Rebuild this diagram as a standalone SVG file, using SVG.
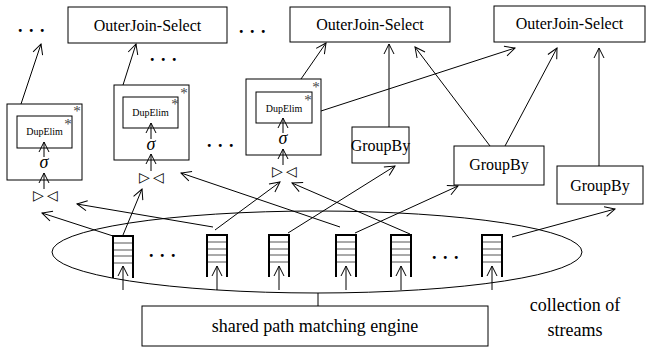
<svg xmlns="http://www.w3.org/2000/svg" width="647" height="347" viewBox="0 0 647 347" font-family="'Liberation Serif', 'Times New Roman', serif">
<style>
.box{fill:#fff;stroke:#000;stroke-width:1}
text{font-family:'Liberation Serif','Times New Roman',serif}
.t{fill:#000;text-anchor:middle}
.big{font-size:16px}
.small{font-size:10px}
.lbl{font-size:18px}
.sig{font-size:18px;font-style:italic}
.dots{font-size:18px;font-weight:bold;letter-spacing:6.5px;fill:#000}
.star{font-size:15px;fill:#444;text-anchor:middle}
.bt{font-size:14px;fill:#000;text-anchor:middle;letter-spacing:3px}
.ln{stroke:#000;stroke-width:1;fill:none}
.arr{stroke:#000;stroke-width:1;fill:none;marker-end:url(#ah)}
.qs{stroke:#000;stroke-width:2;fill:#fff}
.qd{stroke:#555;stroke-width:1}
</style>
<defs>
<marker id="ah" viewBox="0 0 12 12" refX="11" refY="6" markerWidth="12" markerHeight="12" markerUnits="userSpaceOnUse" orient="auto">
<path d="M1,1 L11,6 L1,11" fill="none" stroke="#000" stroke-width="1"/>
</marker>
<g id="queue">
<path class="qs" d="M0,42 V0 H20 V42"/>
<line class="qd" x1="1" y1="7" x2="19" y2="7"/>
<line class="qd" x1="1" y1="14" x2="19" y2="14"/>
<line class="qd" x1="1" y1="20" x2="19" y2="20"/>
<line class="qd" x1="1" y1="27" x2="19" y2="27"/>
</g>
</defs>
<rect width="647" height="347" fill="#fff"/>

<g id="collection">
<ellipse class="ln" cx="317" cy="252" rx="265" ry="41"/>
</g>

<g id="ojs1"><rect class="box" x="68" y="7" width="159" height="36"/><text class="t big" x="147.5" y="30.5">OuterJoin-Select</text></g>
<g id="ojs2"><rect class="box" x="290" y="7" width="160" height="35"/><text class="t big" x="370" y="30">OuterJoin-Select</text></g>
<g id="ojs3"><rect class="box" x="494" y="6" width="151" height="36"/><text class="t big" x="569.5" y="29">OuterJoin-Select</text></g>

<g id="dots">
<text class="dots" x="18" y="32">...</text>
<text class="dots" x="239" y="33">...</text>
<text class="dots" x="150" y="61">...</text>
<text class="dots" x="207" y="147">...</text>
<text class="dots" x="149" y="257">...</text>
<text class="dots" x="432" y="259">...</text>
</g>

<g id="module1">
<rect class="box" x="7" y="104" width="75" height="76"/>
<text class="star" x="77" y="116">*</text>
<rect class="box" x="17" y="116" width="55" height="32"/>
<text class="star" x="68" y="129">*</text>
<text class="t small" x="44.5" y="135">DupElim</text>
<text class="t sig" x="44" y="168">σ</text>
<text class="bt" x="47" y="200">▷◁</text>
<line class="arr" x1="44" y1="189" x2="44" y2="173"/>
<line class="arr" x1="44" y1="157" x2="44" y2="142"/>
</g>

<g id="module2">
<rect class="box" x="114" y="85" width="75" height="75"/>
<text class="star" x="184" y="98">*</text>
<rect class="box" x="123" y="97" width="55" height="31"/>
<text class="star" x="175" y="109">*</text>
<text class="t small" x="150.5" y="116">DupElim</text>
<text class="t sig" x="151" y="150">σ</text>
<text class="bt" x="153" y="182">▷◁</text>
<line class="arr" x1="151" y1="171" x2="151" y2="154"/>
<line class="arr" x1="151" y1="139" x2="151" y2="123"/>
</g>

<g id="module3">
<rect class="box" x="246" y="79" width="75" height="76"/>
<text class="star" x="316" y="92">*</text>
<rect class="box" x="256" y="92" width="56" height="31"/>
<text class="star" x="308" y="105">*</text>
<text class="t small" x="284" y="112">DupElim</text>
<text class="t sig" x="283" y="144">σ</text>
<text class="bt" x="286" y="176">▷◁</text>
<line class="arr" x1="283" y1="165" x2="283" y2="149"/>
<line class="arr" x1="283" y1="133" x2="283" y2="118"/>
</g>

<g id="groupby1"><rect class="box" x="352" y="127" width="57" height="36"/><text class="t big" x="380.5" y="151">GroupBy</text></g>
<g id="groupby2"><rect class="box" x="454" y="146" width="90" height="39"/><text class="t big" x="499" y="170">GroupBy</text></g>
<g id="groupby3"><rect class="box" x="557" y="166" width="86" height="38"/><text class="t big" x="600" y="191">GroupBy</text></g>

<g id="streams">
<use href="#queue" x="113" y="236"/>
<use href="#queue" x="207" y="235"/>
<use href="#queue" x="269" y="235"/>
<use href="#queue" x="336" y="235"/>
<use href="#queue" x="391" y="235"/>
<use href="#queue" x="482" y="235"/>
</g>

<g id="engine">
<rect class="box" x="142" y="306" width="346" height="40"/>
<text class="t lbl" x="315" y="332">shared path matching engine</text>
</g>

<g id="caption">
<text class="t lbl" x="575" y="311">collection of</text>
<text class="t lbl" x="575" y="336">streams</text>
</g>

<g id="connectors">
<line class="arr" x1="21" y1="104" x2="41" y2="44"/>
<line class="arr" x1="123" y1="85" x2="136" y2="44"/>
<line class="arr" x1="301" y1="79" x2="326" y2="43"/>
<line class="arr" x1="321" y1="111" x2="515" y2="48"/>
<line class="arr" x1="389" y1="127" x2="389" y2="44"/>
<line class="arr" x1="490" y1="146" x2="415" y2="47"/>
<line class="arr" x1="505" y1="146" x2="557" y2="48"/>
<line class="arr" x1="599" y1="166" x2="599" y2="48"/>

<line class="arr" x1="113" y1="236" x2="42" y2="213"/>
<line class="arr" x1="123" y1="235" x2="142" y2="189"/>
<line class="arr" x1="213" y1="227" x2="77" y2="204"/>
<line class="arr" x1="215" y1="230" x2="280" y2="182"/>
<line class="arr" x1="288" y1="233" x2="395" y2="166"/>
<line class="arr" x1="340" y1="227" x2="181" y2="173"/>
<line class="arr" x1="355" y1="233" x2="458" y2="186"/>
<line class="arr" x1="410" y1="234" x2="292" y2="183"/>
<line class="arr" x1="512" y1="237" x2="615" y2="209"/>

<line class="arr" x1="123" y1="290" x2="123" y2="266"/>
<line class="arr" x1="217" y1="290" x2="217" y2="266"/>
<line class="arr" x1="279" y1="290" x2="279" y2="266"/>
<line class="arr" x1="346" y1="290" x2="346" y2="266"/>
<line class="arr" x1="401" y1="290" x2="401" y2="266"/>
<line class="arr" x1="492" y1="290" x2="492" y2="266"/>

<line class="ln" x1="318" y1="293" x2="318" y2="306"/>
</g>
</svg>
